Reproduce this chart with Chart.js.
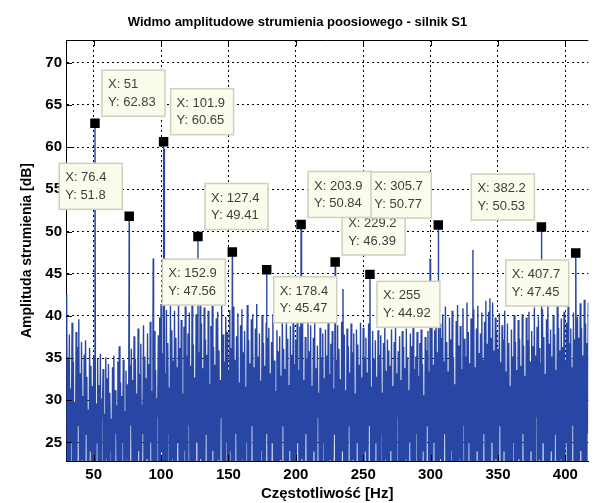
<!DOCTYPE html>
<html>
<head>
<meta charset="utf-8">
<script src="https://cdn.jsdelivr.net/npm/chart.js@4/dist/chart.umd.min.js"></script>
<style>
  html, body { margin: 0; padding: 0; background: #fff; }
  #wrap { width: 595px; height: 503px; }
</style>
</head>
<body>
<div id="wrap"><canvas id="spec" width="595" height="503"></canvas></div>
<script>
// ====================== DATA ======================
// spectrum read as local tops (at each whole Hz from 30) and the dips between them (at Hz + 0.5)
const startHz = 30;
const topDb = [
  42.5, 35.1, 37.8, 31.4, 39.2, 34.6, 29.8, 38.1, 36.3, 39.6,   // 30
  33.2, 36.9, 30.5, 35.4, 37.1, 32.8, 28.9, 36.2, 34.1, 31.7,   // 40
  35.2, 33.4, 29.6, 34.9, 31.8, 35.5, 30.2, 33.7, 28.4, 35.1,   // 50
  32.6, 34.3, 30.9, 27.8, 33.9, 35.3, 31.2, 29.4, 34.6, 36.4,   // 60
  32.1, 30.5, 34.8, 28.7, 33.5, 31.9, 29.2, 34.2, 36.1, 32.4,   // 70
  37.6, 34.9, 30.8, 38.5, 33.1, 36.7, 29.5, 38.9, 35.2, 32.6,   // 80
  37.9, 34.3, 39.3, 31.1, 36.4, 38.2, 33.6, 30.2, 37.7, 39.8,   // 90
  41.4, 35.6, 38.9, 33.2, 40.7, 36.8, 31.5, 41.2, 38.3, 34.7,   // 100
  40.6, 37.4, 33.9, 41.6, 36.2, 39.5, 30.8, 38.7, 41.1, 35.3,   // 110
  37.9, 40.4, 34.1, 41.8, 36.6, 32.7, 40.2, 38.4, 35.7, 41.3,   // 120
  39.1, 33.8, 41.0, 37.2, 35.4, 40.6, 31.9, 38.8, 41.2, 36.3,   // 130
  34.2, 39.7, 40.5, 35.9, 32.4, 41.4, 37.8, 34.6, 39.9, 38.1,   // 140
  33.5, 40.7, 36.2, 39.4, 41.1, 34.8, 37.6, 40.3, 32.1, 38.9,   // 150
  40.8, 35.7, 38.2, 31.6, 41.3, 37.1, 34.4, 39.6, 40.2, 33.9,   // 160
  38.5, 41.4, 35.2, 37.9, 32.3, 40.1, 36.8, 34.1, 39.2, 37.4,   // 170
  38.6, 33.2, 36.9, 40.2, 34.7, 31.1, 38.3, 35.8, 37.6, 32.9,   // 180
  39.5, 36.1, 33.7, 40.1, 37.3, 31.8, 38.8, 35.4, 39.9, 34.3,   // 190
  37.2, 40.4, 33.6, 38.7, 36.1, 39.8, 32.4, 37.5, 34.9, 40.6,   // 200
  35.8, 38.9, 31.7, 37.4, 39.2, 33.8, 36.5, 30.9, 38.6, 35.1,   // 210
  37.9, 32.6, 38.4, 35.3, 39.4, 33.1, 36.7, 38.2, 31.4, 37.6,   // 220
  34.8, 38.9, 36.1, 32.5, 39.3, 35.6, 37.8, 31.2, 38.5, 36.4,   // 230
  33.3, 39.1, 35.7, 37.9, 30.8, 38.4, 36.6, 34.2, 39.2, 32.7,   // 240
  38.6, 35.1, 37.4, 33.3, 39.1, 36.2, 31.6, 38.2, 34.9, 37.1,   // 250
  32.8, 38.3, 35.4, 37.7, 30.9, 36.8, 38.6, 33.5, 37.2, 35.9,   // 260
  34.1, 38.4, 31.7, 36.9, 38.7, 33.2, 35.8, 37.6, 32.4, 38.2,   // 270
  36.3, 33.8, 38.5, 35.1, 31.2, 37.9, 36.4, 38.6, 33.7, 35.2,   // 280
  38.1, 32.9, 36.8, 38.4, 34.3, 30.6, 37.5, 35.9, 38.2, 33.4,   // 290
  36.9, 39.6, 34.2, 38.3, 40.4, 35.7, 32.8, 39.1, 37.4, 40.2,   // 300
  34.6, 41.1, 36.9, 33.4, 39.8, 37.2, 40.6, 35.1, 31.9, 39.4,   // 310
  41.3, 36.5, 38.8, 33.7, 40.9, 37.3, 35.2, 41.6, 38.1, 34.4,   // 320
  39.7, 36.2, 40.8, 33.9, 38.5, 41.2, 35.6, 37.9, 40.4, 34.8,   // 330
  39.3, 41.8, 36.7, 40.5, 42.1, 37.4, 41.6, 35.9, 39.8, 38.2,   // 340
  36.1, 40.3, 34.5, 38.9, 37.2, 40.6, 33.4, 39.1, 36.8, 31.7,   // 350
  38.4, 35.2, 40.1, 36.9, 33.6, 39.5, 37.3, 34.1, 40.2, 36.5,   // 360
  32.9, 39.8, 37.1, 40.5, 34.6, 38.2, 36.4, 41.0, 35.3, 38.7,   // 370
  39.9, 36.2, 34.4, 40.8, 37.5, 33.1, 39.6, 41.2, 36.7, 38.4,   // 380
  35.2, 40.1, 37.8, 33.6, 41.3, 38.6, 35.9, 39.7, 36.3, 40.5,   // 390
  34.7, 39.2, 41.1, 36.8, 38.5, 33.9, 40.4, 37.2, 35.6, 39.9,   // 400
  37.4, 41.5, 38.6, 35.3, 41.9, 39.1, 36.8, 41.6                // 410
];
const dipDb = [
  18, 21, 16, 25, 19, 14, 22, 17, 27, 20,   // 30.5
  15, 23, 18, 21, 26, 16, 19, 24, 14, 20,   // 40.5
  22, 17, 25, 15, 19, 21, 28, 16, 18, 23,   // 50.5
  20, 14, 24, 18, 21, 16, 26, 19, 15, 22,   // 60.5
  17, 25, 20, 14, 23, 18, 16, 27, 21, 19,   // 70.5
  15, 22, 18, 24, 16, 20, 26, 14, 19, 23,   // 80.5
  21, 17, 25, 15, 19, 22, 18, 28, 16, 20,   // 90.5
  24, 14, 19, 21, 17, 26, 15, 20, 23, 18,   // 100.5
  16, 22, 25, 14, 19, 21, 17, 24, 15, 20,   // 110.5
  27, 18, 16, 22, 19, 14, 25, 17, 21, 23,   // 120.5
  15, 20, 18, 26, 16, 22, 19, 14, 24, 17,   // 130.5
  21, 16, 23, 19, 28, 15, 20, 18, 25, 14,   // 140.5
  19, 24, 17, 21, 15, 26, 18, 22, 16, 20,   // 150.5
  23, 14, 19, 25, 17, 21, 16, 27, 18, 15,   // 160.5
  20, 22, 16, 19, 24, 14, 21, 18, 26, 17,   // 170.5
  15, 21, 25, 18, 16, 22, 19, 14, 23, 20,   // 180.5
  27, 16, 18, 21, 15, 24, 19, 17, 22, 14,   // 190.5
  20, 25, 16, 19, 23, 15, 18, 26, 21, 17,   // 200.5
  14, 22, 19, 24, 16, 20, 28, 15, 18, 21,   // 210.5
  25, 17, 14, 21, 19, 23, 16, 20, 26, 18,   // 220.5
  16, 22, 19, 15, 24, 18, 21, 17, 14, 27,   // 230.5
  20, 16, 23, 18, 15, 25, 19, 22, 17, 21,   // 240.5
  18, 24, 15, 20, 27, 17, 22, 14, 19, 25,   // 250.5
  16, 21, 19, 26, 14, 18, 23, 17, 20, 15,   // 260.5
  24, 19, 16, 22, 18, 28, 15, 21, 17, 20,   // 270.5
  14, 23, 19, 16, 25, 20, 18, 15, 22, 26,   // 280.5
  17, 21, 14, 19, 24, 16, 20, 27, 18, 15,   // 290.5
  22, 18, 25, 16, 19, 14, 21, 23, 17, 20,   // 300.5
  26, 15, 19, 22, 17, 24, 14, 20, 18, 21,   // 310.5
  16, 23, 19, 15, 27, 18, 21, 17, 25, 14,   // 320.5
  20, 18, 22, 16, 24, 19, 15, 21, 17, 26,   // 330.5
  19, 14, 22, 18, 16, 25, 20, 17, 23, 15,   // 340.5
  21, 27, 16, 19, 24, 15, 20, 18, 22, 17,   // 350.5
  14, 25, 18, 21, 16, 23, 19, 15, 26, 20,   // 360.5
  17, 22, 15, 19, 24, 18, 21, 16, 28, 14,   // 370.5
  23, 19, 16, 25, 18, 20, 15, 22, 17, 24,   // 380.5
  19, 15, 26, 18, 21, 14, 23, 17, 20, 16,   // 390.5
  25, 18, 21, 15, 19, 27, 16, 22, 18, 14,   // 400.5
  20, 24, 17, 19, 15, 22, 26, 18            // 410.5
];

// other tall lines without a data tip
const spikeHz = [94.2, 102.3, 235, 299.6, 331.4];
const spikeDb = [46.8, 59.8, 43.2, 46.8, 47.8];

// data tips
const tipHz = [51, 76.4, 101.9, 127.4, 152.9, 178.4, 203.9, 229.2, 255, 305.7, 382.2, 407.7];
const tipDb = [62.83, 51.8, 60.65, 49.41, 47.56, 45.47, 50.84, 46.39, 44.92, 50.77, 50.53, 47.45];
// which corner the tip box sits at (ur = up-right, ll = low-left ...)
const tipSide = ["ur", "ul", "ur", "ur", "ll", "lr", "ur", "ur", "lr", "ul", "ul", "ll"];

const xTicks = [50, 100, 150, 200, 250, 300, 350, 400];
const yTicks = [25, 30, 35, 40, 45, 50, 55, 60, 65, 70];

// ====================== BUILD SERIES ======================
let specPts = [];
topDb.forEach((v, i) => {
  specPts.push({ x: startHz + i, y: v });
  specPts.push({ x: startHz + i + 0.5, y: dipDb[i] });
});
spikeHz.forEach((h, i) => specPts.push({ x: h, y: spikeDb[i] }));
tipHz.forEach((h, i) => specPts.push({ x: h, y: tipDb[i] }));
specPts.sort((a, b) => a.x - b.x);

const tipPts = tipHz.map((h, i) => ({ x: h, y: tipDb[i] }));

// ====================== PLUGIN: box ticks + data tips ======================
const tipPlugin = {
  id: "tips",
  afterDraw(chart) {
    const ctx = chart.ctx;
    const a = chart.chartArea;
    const xs = chart.scales.x, ys = chart.scales.y;

    // inward tick marks like matlab
    ctx.save();
    ctx.strokeStyle = "#000";
    ctx.lineWidth = 1;
    ctx.beginPath();
    ctx.moveTo(a.left, a.top + 0.5);
    ctx.lineTo(a.right, a.top + 0.5);
    xTicks.forEach(t => {
      let px = Math.round(xs.getPixelForValue(t)) + 0.5;
      ctx.moveTo(px, a.top); ctx.lineTo(px, a.top + 6);
      ctx.moveTo(px, a.bottom); ctx.lineTo(px, a.bottom - 6);
    });
    yTicks.forEach(t => {
      let py = Math.round(ys.getPixelForValue(t)) + 0.5;
      ctx.moveTo(a.left, py); ctx.lineTo(a.left + 6, py);
    });
    ctx.stroke();
    ctx.restore();

    // data tip boxes, lower ones first so upper boxes overlap them
    const W = 63, H = 46;
    let boxes = tipHz.map((h, i) => {
      let px = xs.getPixelForValue(h);
      let py = ys.getPixelForValue(tipDb[i]);
      let s = tipSide[i];
      let bx = s[1] === "r" ? px + 7 : px - 7 - W;
      let by = s[0] === "u" ? py - 7 - H : py + 7;
      return { bx, by, i };
    });
    boxes.sort((p, q) => q.by - p.by);

    ctx.save();
    ctx.font = "13px 'Liberation Sans', Arial, sans-serif";
    ctx.textBaseline = "middle";
    boxes.forEach(b => {
      ctx.fillStyle = "#fcfcec";
      ctx.fillRect(b.bx, b.by, W, H);
      ctx.strokeStyle = "#cfcfbd";
      ctx.lineWidth = 1.5;
      ctx.strokeRect(b.bx, b.by, W, H);
      ctx.fillStyle = "#404040";
      ctx.fillText("X: " + tipHz[b.i], b.bx + 6, b.by + 14.5);
      ctx.fillText("Y: " + tipDb[b.i], b.bx + 6, b.by + 32);
    });
    ctx.restore();
  }
};

// ====================== CHART ======================
const boldFont = (sz) => ({ family: "'Liberation Sans', Arial, sans-serif", size: sz, weight: "bold" });

new Chart(document.getElementById("spec"), {
  type: "line",
  data: {
    datasets: [
      {
        label: "markers",
        data: tipPts,
        showLine: false,
        pointStyle: "rect",
        pointRadius: 6.7,
        pointBackgroundColor: "#000",
        pointBorderWidth: 0,
        order: 0
      },
      {
        label: "widmo",
        data: specPts,
        borderColor: "#2846a3",
        borderWidth: 1.4,
        pointRadius: 0,
        tension: 0,
        fill: false,
        order: 1
      }
    ]
  },
  options: {
    responsive: false,
    animation: false,
    events: [],
    layout: { padding: 0 },
    plugins: {
      legend: { display: false },
      tooltip: { enabled: false },
      title: {
        display: true,
        text: "Widmo amplitudowe strumienia poosiowego - silnik S1",
        color: "#000",
        font: boldFont(13),
        padding: { top: 15, bottom: 9.4 }
      }
    },
    scales: {
      x: {
        type: "linear",
        min: 29.5,
        max: 417,
        z: 1,
        afterBuildTicks: s => { s.ticks = xTicks.map(v => ({ value: v })); },
        afterFit: s => { s.height = 42; },
        grid: { color: "#000", lineWidth: 1, drawTicks: false },
        border: { display: true, color: "#000", width: 1, dash: [2, 3] },
        ticks: { color: "#000", font: boldFont(15), padding: 5, maxRotation: 0 },
        title: {
          display: true,
          text: "Częstotliwość [Hz]",
          color: "#000",
          font: boldFont(15),
          padding: { top: 0, bottom: 0 }
        }
      },
      y: {
        type: "linear",
        min: 22.8,
        max: 72.7,
        z: 1,
        afterBuildTicks: s => { s.ticks = yTicks.map(v => ({ value: v })); },
        afterFit: s => { s.width = 66; },
        grid: { color: "#000", lineWidth: 1, drawTicks: false },
        border: { display: true, color: "#000", width: 1, dash: [2, 3] },
        ticks: { color: "#000", font: boldFont(15), padding: 4 },
        title: {
          display: true,
          text: "Amplituda strumienia [dB]",
          color: "#000",
          font: boldFont(14),
          padding: { top: 18.6, bottom: 0 }
        }
      }
    }
  },
  plugins: [tipPlugin]
});
</script>
</body>
</html>
